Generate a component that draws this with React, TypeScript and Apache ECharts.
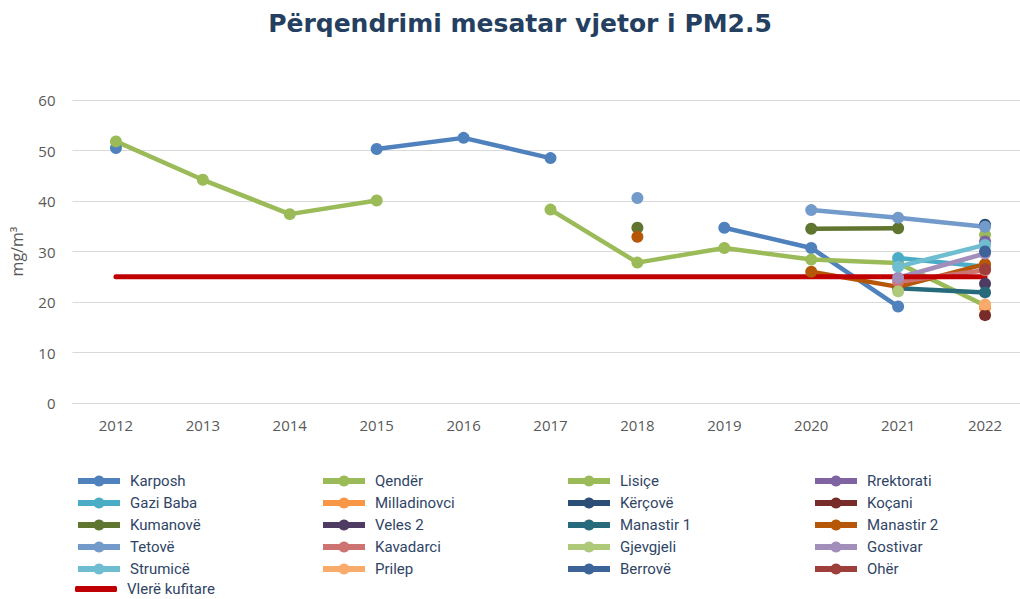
import React, { useEffect, useRef } from "react";
import * as echarts from "echarts";

const years = ["2012", "2013", "2014", "2015", "2016", "2017", "2018", "2019", "2020", "2021", "2022"];

const karposh = [50.5, null, null, 50.3, 52.5, 48.5, null, 34.7, 30.7, 19.1, null];
const qender = [51.8, 44.2, 37.4, 40.1, null, null, null, null, null, null, 33.3];
const lisice = [null, null, null, null, null, 38.3, 27.8, 30.7, 28.4, 27.7, 19.3];
const rrektorati = [null, null, null, null, null, null, null, null, null, null, 32.0];
const gaziBaba = [null, null, null, null, null, null, null, null, null, 28.7, 27.0];
const milladinovci = [null, null, null, null, null, null, null, null, null, null, 18.8];
const kercove = [null, null, null, null, null, null, null, null, null, null, 35.3];
const kocani = [null, null, null, null, null, null, null, null, null, null, 17.4];
const kumanove = [null, null, null, null, null, null, 34.7, null, 34.5, 34.6, null];
const veles2 = [null, null, null, null, null, null, null, null, null, null, 23.6];
const manastir1 = [null, null, null, null, null, null, null, null, null, 22.7, 21.9];
const manastir2 = [null, null, null, null, null, null, 32.9, null, 26.0, 23.0, 27.5];
const tetove = [null, null, null, null, null, null, 40.6, null, 38.2, 36.7, 34.9];
const kavadarci = [null, null, null, null, null, null, null, null, null, 24.0, 26.3];
const gjevgjeli = [null, null, null, null, null, null, null, null, null, 22.1, null];
const gostivar = [null, null, null, null, null, null, null, null, null, 24.8, 29.6];
const strumice = [null, null, null, null, null, null, null, null, null, 27.0, 31.3];
const prilep = [null, null, null, null, null, null, null, null, null, null, 19.5];
const berrove = [null, null, null, null, null, null, null, null, null, null, 30.0];
const oher = [null, null, null, null, null, null, null, null, null, null, 26.5];
const limitValue = [25, 25, 25, 25, 25, 25, 25, 25, 25, 25, 25];

const seriesDefs: { name: string; data: (number | null)[]; color: string }[] = [
  { name: "Karposh", data: karposh, color: "#4F81BD" },
  { name: "Qendër", data: qender, color: "#9BBB59" },
  { name: "Lisiçe", data: lisice, color: "#9BBB59" },
  { name: "Rrektorati", data: rrektorati, color: "#8064A2" },
  { name: "Gazi Baba", data: gaziBaba, color: "#4BACC6" },
  { name: "Milladinovci", data: milladinovci, color: "#F79646" },
  { name: "Kërçovë", data: kercove, color: "#2C4D75" },
  { name: "Koçani", data: kocani, color: "#772C2A" },
  { name: "Kumanovë", data: kumanove, color: "#5F7530" },
  { name: "Veles 2", data: veles2, color: "#4D3B62" },
  { name: "Manastir 1", data: manastir1, color: "#276A7C" },
  { name: "Manastir 2", data: manastir2, color: "#B65708" },
  { name: "Tetovë", data: tetove, color: "#729ACA" },
  { name: "Kavadarci", data: kavadarci, color: "#CD7371" },
  { name: "Gjevgjeli", data: gjevgjeli, color: "#AFC97A" },
  { name: "Gostivar", data: gostivar, color: "#A28EBB" },
  { name: "Strumicë", data: strumice, color: "#6FBDD1" },
  { name: "Prilep", data: prilep, color: "#F9AB6B" },
  { name: "Berrovë", data: berrove, color: "#3C6499" },
  { name: "Ohër", data: oher, color: "#9E3F3C" },
];

const LIMIT_NAME = "Vlerë kufitare";

export default function App() {
  const ref = useRef<HTMLDivElement>(null);
  useEffect(() => {
    if (!ref.current) return;
    const chart = echarts.init(ref.current, null, { renderer: "svg" });
    const cols: string[][] = [[], [], [], []];
    seriesDefs.forEach((s, i) => cols[i % 4].push(s.name));
    const colLeft = [75, 320, 565, 812];
    const legendText = {
      color: "#2F4566",
      fontSize: 15,
      fontFamily: "Roboto",
      lineHeight: 18,
      padding: [0, 0, 0, 5],
    };
    const series: any[] = seriesDefs.map((s) => ({
      name: s.name,
      type: "line",
      data: s.data,
      connectNulls: false,
      showSymbol: true,
      showAllSymbol: true,
      symbol: "circle",
      symbolSize: 12,
      lineStyle: { width: 4.5, color: s.color },
      itemStyle: { color: s.color },
      emphasis: { disabled: true },
    }));
    series.push({
      name: LIMIT_NAME,
      type: "line",
      data: limitValue,
      symbol: "none",
      showSymbol: false,
      lineStyle: { width: 5, color: "#C00000", cap: "round" },
      itemStyle: { color: "#C00000" },
      emphasis: { disabled: true },
    });
    const legends: any[] = cols.map((c, i) => ({
      orient: "vertical",
      left: colLeft[i],
      top: 472,
      height: 200,
      padding: 0,
      data: c,
      itemWidth: 42,
      itemHeight: 14,
      itemGap: 4,
      lineStyle: { width: 6 },
      textStyle: legendText,
      selectedMode: false,
    }));
    legends.push({
      orient: "vertical",
      left: 75,
      top: 581,
      padding: 0,
      data: [LIMIT_NAME],
      icon: "roundRect",
      itemWidth: 42,
      itemHeight: 6,
      textStyle: { ...legendText, lineHeight: 16 },
      selectedMode: false,
    });
    chart.setOption({
      animation: false,
      backgroundColor: "#ffffff",
      title: {
        text: "Përqendrimi mesatar vjetor i PM2.5",
        left: "center",
        top: 6,
        textStyle: { fontFamily: "DejaVu Sans", fontWeight: "bold", fontSize: 25, color: "#243F60" },
      },
      legend: legends,
      grid: { left: 72.5, right: 11.5, top: 100, height: 303 },
      xAxis: {
        type: "category",
        data: years,
        boundaryGap: true,
        axisLine: { show: true, lineStyle: { color: "#D9D9D9", width: 1 } },
        axisTick: { show: false },
        axisLabel: { color: "#595959", fontSize: 15, fontFamily: "Open Sans", margin: 14 },
      },
      yAxis: {
        type: "value",
        min: 0,
        max: 60,
        interval: 10,
        name: "mg/m³",
        nameLocation: "middle",
        nameGap: 48,
        nameTextStyle: { color: "#595959", fontSize: 16, fontFamily: "Open Sans" },
        axisLine: { show: false },
        axisTick: { show: false },
        axisLabel: { color: "#595959", fontSize: 15, fontFamily: "Open Sans", margin: 17 },
        splitLine: { lineStyle: { color: "#D9D9D9", width: 1.2 } },
      },
      series,
    });
    return () => chart.dispose();
  }, []);
  return (
    <div style={{ position: "fixed", left: 0, top: 0, width: 1020, height: 599, overflow: "hidden", background: "#fff" }}>
      <div ref={ref} style={{ width: 1040, height: 599 }} />
    </div>
  );
}
